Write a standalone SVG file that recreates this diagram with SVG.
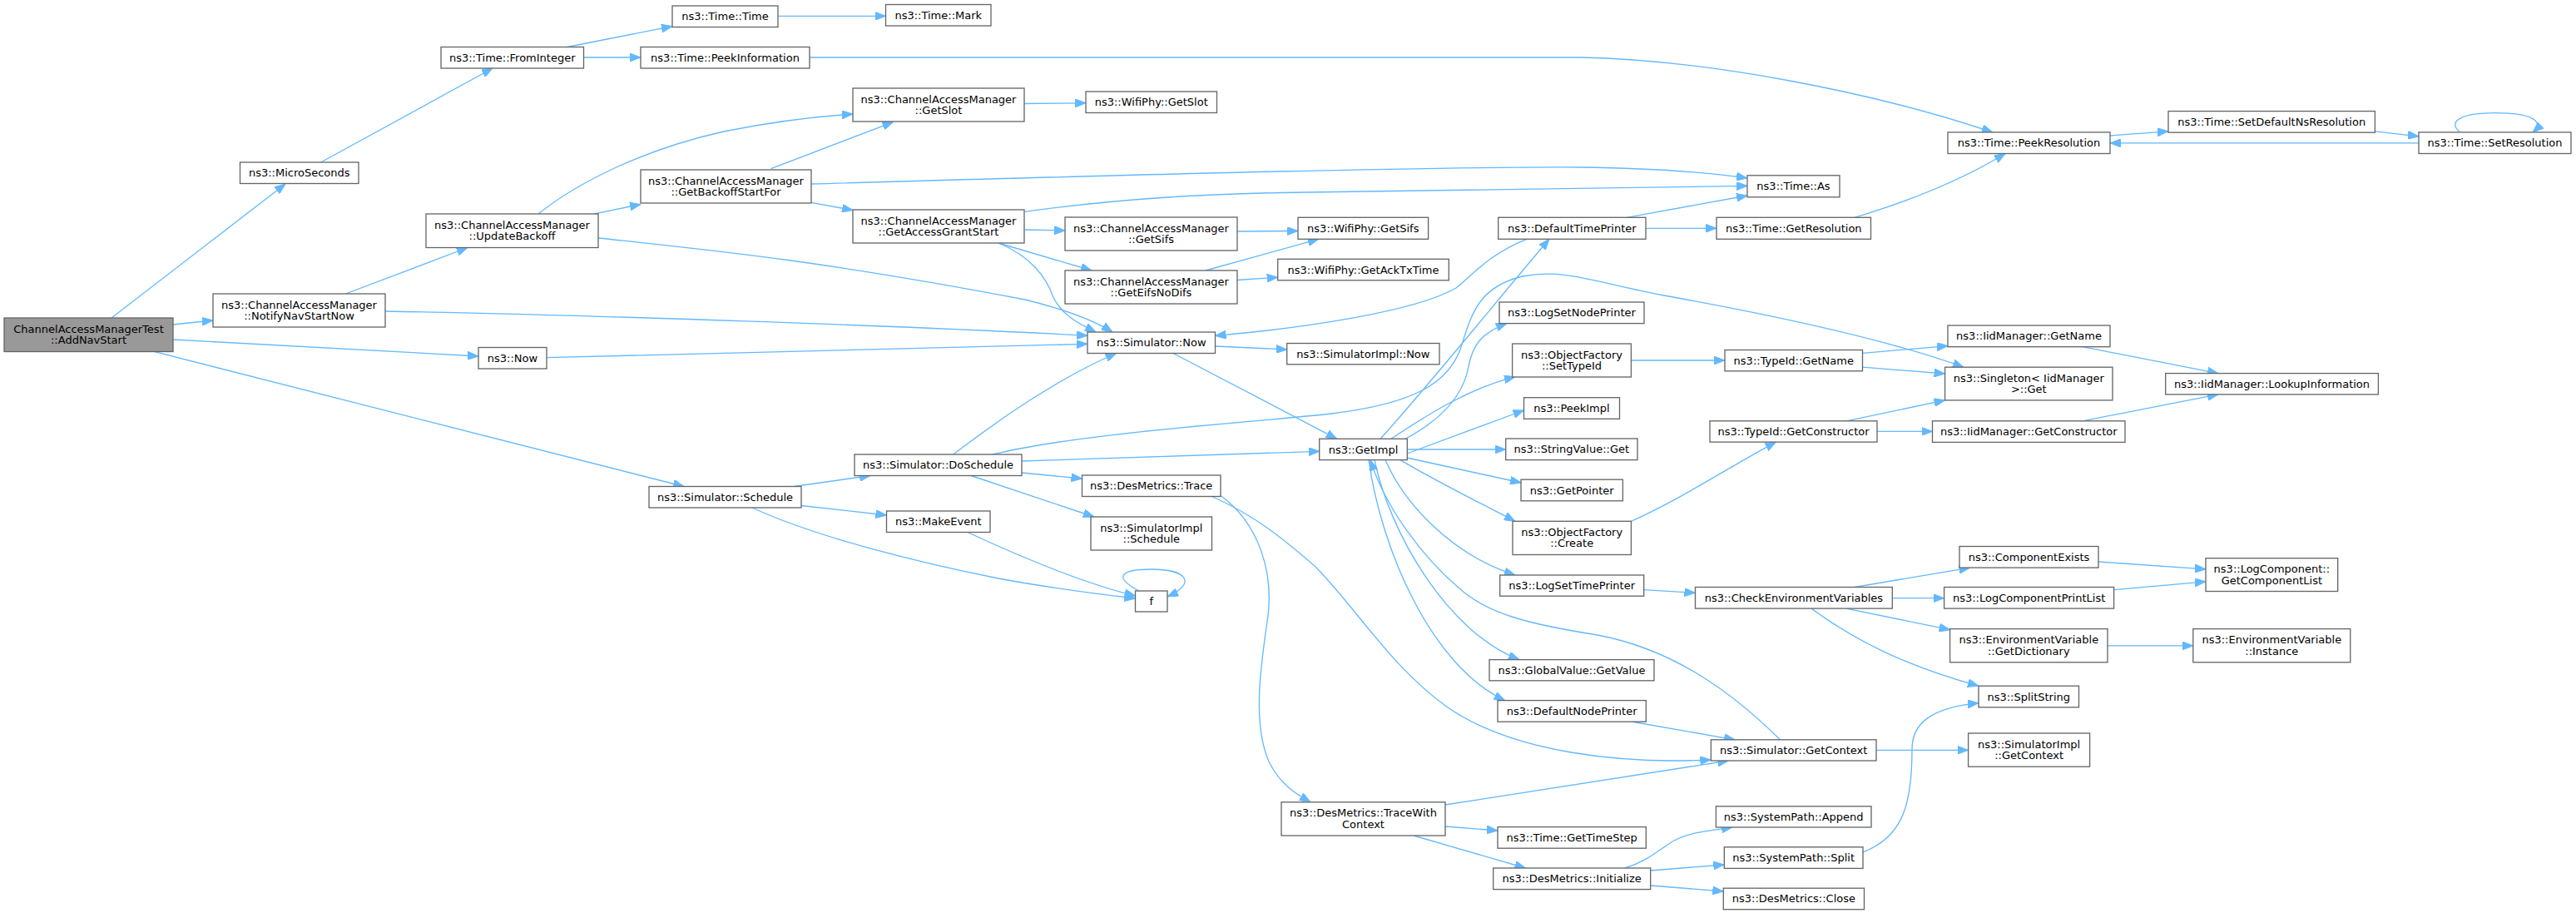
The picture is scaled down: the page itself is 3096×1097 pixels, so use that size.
<svg xmlns="http://www.w3.org/2000/svg" width="3096" height="1097" viewBox="0 0 3096 1097">
<style>
.n rect{fill:#ffffff;stroke:#666666;stroke-width:1.33}
.root rect{fill:#999999}
text{font-family:"DejaVu Sans","Liberation Sans",sans-serif;font-size:13px;text-anchor:middle;fill:#000000}
.e path{fill:none;stroke:#63b8ff;stroke-width:1.33;marker-end:url(#a)}
</style>
<defs>
<marker id="a" viewBox="0 0 13 10" refX="13" refY="5" markerWidth="13" markerHeight="10" markerUnits="userSpaceOnUse" orient="auto">
<path d="M0,0 L13,5 L0,10 z" fill="#63b8ff" stroke="#63b8ff" stroke-width="1"/>
</marker>
</defs>
<rect x="0" y="0" width="3096" height="1097" fill="#ffffff"/>
<g id="edges" class="e">
<path d="M134,382 L343,221"/>
<path d="M208,390 L256,385"/>
<path d="M208,408 L575,428"/>
<path d="M186,422.7 L822,584.5"/>
<path d="M385.6,195 L592,82"/>
<path d="M681.6,56.5 L808,31.6"/>
<path d="M701.5,69 L770,69"/>
<path d="M935,19.3 L1064.5,19.3"/>
<path d="M973,69 L1900,69 C2050,72 2250,110 2395,159"/>
<path d="M415.4,353 L562,297.5"/>
<path d="M463,374 C700,378 1100,392 1307,403.3"/>
<path d="M657,429.7 L1307,413.3"/>
<path d="M646.8,257 C700,215 780,178 870,158 C930,146 980,140 1025,137"/>
<path d="M714,257 L770,245.5"/>
<path d="M719,286 C850,300 980,312 1232,360 C1280,372 1315,385 1337,399"/>
<path d="M926.7,202.7 L1073.5,146.6"/>
<path d="M975,221 C1300,212 1700,200 1900,201 C1980,202 2050,207 2100,214"/>
<path d="M975,243.4 L1025,252.5"/>
<path d="M1231.7,254.3 C1350,238 1450,233 1540,231.5 L2100,223.4"/>
<path d="M1231.7,276 L1280,277"/>
<path d="M1200,292 L1312,325"/>
<path d="M1200,292 C1240,308 1258,335 1265,355 C1275,378 1295,388 1317,399"/>
<path d="M1231,124.5 L1305,123.8"/>
<path d="M1487,278 L1560,277.5"/>
<path d="M1449,325 L1584.8,287.3"/>
<path d="M1487,336.5 L1535.7,333.3"/>
<path d="M1460.5,416 L1546.7,420"/>
<path d="M1410,424.5 L1606.7,527.3"/>
<path d="M1228,554 L1585.7,542.3"/>
<path d="M1145.6,546 C1200,505 1270,455 1341.7,424.5"/>
<path d="M1193,546 C1300,520 1500,508 1600,497 C1700,485 1740,460 1755,420 C1768,380 1775,345 1830,332 C1880,322 1920,340 2000,355 C2150,382 2280,412 2360,441.2"/>
<path d="M1228,568 L1300.5,575"/>
<path d="M1167,571.5 L1315,621"/>
<path d="M954,584.5 L1046,571.5"/>
<path d="M963,607.5 L1065.5,619"/>
<path d="M904,610 C980,645 1100,675 1200,695 C1270,708 1330,715 1364.5,719"/>
<path d="M1163,639.5 C1250,680 1320,705 1364.5,716"/>
<path d="M1369,710 C1335,692 1350,684 1384,684 C1425,684 1440,700 1403,717"/>
<path d="M1456.6,596.5 C1510,620 1545,650 1580,680 C1630,730 1670,800 1740,850 C1820,905 1950,918 2056.4,913"/>
<path d="M1466.5,595 C1515,630 1530,690 1524,740 C1515,800 1505,870 1525,915 C1540,945 1560,955 1575,963.8"/>
<path d="M1737,967 L2077.3,914"/>
<path d="M1737,993 L1800,998"/>
<path d="M1699,1004 L1833.5,1043"/>
<path d="M1953,1043 C1980,1035 1995,1020 2012,1010 C2030,1000 2055,998 2082,994"/>
<path d="M1983.8,1046 L2072.3,1039"/>
<path d="M1983.8,1064 L2071.3,1071"/>
<path d="M2239,1023.8 C2290,1005 2298,960 2298,900 C2298,870 2320,850 2378,844.8"/>
<path d="M2255,901.3 L2365.6,901.3"/>
<path d="M2139.5,888.8 C2080,830 2010,780 1920,763 C1850,752 1790,740 1754,707 C1710,670 1665,610 1647,552.6"/>
<path d="M1960.4,867 L2085,888.8"/>
<path d="M1691,550 L1828,580"/>
<path d="M1683,552.6 C1720,575 1780,605 1821,626.3"/>
<path d="M1665,552.6 C1685,600 1740,665 1821,691"/>
<path d="M1652,552.6 C1670,640 1740,760 1826,792.6"/>
<path d="M1645,552.6 C1660,660 1720,800 1808.7,841.6"/>
<path d="M1691,545 L1831.5,493"/>
<path d="M1691,540 L1809.7,540"/>
<path d="M1672,527.3 C1720,495 1770,465 1821,452.8"/>
<path d="M1689,527.3 C1740,500 1760,470 1765,440 C1770,415 1780,400 1811,388.6"/>
<path d="M1659,527.3 C1720,460 1800,360 1862,287.3"/>
<path d="M1835,287.3 C1790,305 1770,330 1750,346 C1700,375 1560,395 1460.5,403.3"/>
<path d="M1955.4,261.3 L2100,235"/>
<path d="M1978,274.3 L2063,274.3"/>
<path d="M2229,261.3 C2300,240 2360,215 2410,184.5"/>
<path d="M2536,163 L2606,157.8"/>
<path d="M2854.4,157.8 L2907,163.8"/>
<path d="M2907,171.9 L2536,171.9"/>
<path d="M2956.6,158.9 C2940,145 2960,135.7 2999,135.7 C3040,135.7 3060,145 3044,158.9"/>
<path d="M1960.4,433 L2073,433"/>
<path d="M2238.5,424.4 L2341,415.6"/>
<path d="M2238.5,441.2 L2337.6,449"/>
<path d="M2219,505.8 L2337.6,480.9"/>
<path d="M2256,518.4 L2322.5,518.4"/>
<path d="M2503,416.7 L2666,448.6"/>
<path d="M2503,505.8 L2666,473.9"/>
<path d="M1960.4,626.3 C2020,600 2080,560 2134.5,531.1"/>
<path d="M1975.8,708.7 L2037.5,712.3"/>
<path d="M2229,705.5 L2367.6,682.1"/>
<path d="M2274.3,718.7 L2336.6,718.7"/>
<path d="M2219,731.1 L2343.6,756.7"/>
<path d="M2177,731.1 C2230,770 2290,800 2378,824.2"/>
<path d="M2522,675 L2651,683.9"/>
<path d="M2540.6,708.7 L2651,698.8"/>
<path d="M2533,775.9 L2635.8,775.9"/>
</g>
<g id="n_root" class="n root"><rect x="5" y="382" width="203" height="40.5"/><text x="106.5" y="399.5">ChannelAccessManagerTest</text><text x="106.5" y="413">::AddNavStart</text></g>
<g id="n_microseconds" class="n"><rect x="288.5" y="195" width="142.5" height="25.5"/><text x="359.75" y="212.25">ns3::MicroSeconds</text></g>
<g id="n_notifynavstartnow" class="n"><rect x="256" y="353" width="207" height="40"/><text x="359.5" y="370.5">ns3::ChannelAccessManager</text><text x="359.5" y="384">::NotifyNavStartNow</text></g>
<g id="n_now" class="n"><rect x="575" y="417.5" width="82" height="25.5"/><text x="616" y="434.75">ns3::Now</text></g>
<g id="n_schedule" class="n"><rect x="780" y="584.5" width="183" height="25.5"/><text x="871.5" y="601.75">ns3::Simulator::Schedule</text></g>
<g id="n_frominteger" class="n"><rect x="530" y="56.5" width="171.5" height="25.5"/><text x="615.75" y="73.75">ns3::Time::FromInteger</text></g>
<g id="n_updatebackoff" class="n"><rect x="512" y="257" width="207" height="40.5"/><text x="615.5" y="274.5">ns3::ChannelAccessManager</text><text x="615.5" y="288">::UpdateBackoff</text></g>
<g id="n_timetime" class="n"><rect x="808" y="7" width="127" height="25.5"/><text x="871.5" y="24.25">ns3::Time::Time</text></g>
<g id="n_timemark" class="n"><rect x="1064.5" y="5.5" width="126.5" height="25.5"/><text x="1127.75" y="22.75">ns3::Time::Mark</text></g>
<g id="n_peekinformation" class="n"><rect x="770" y="56.5" width="203" height="25.5"/><text x="871.5" y="73.75">ns3::Time::PeekInformation</text></g>
<g id="n_cam_getslot" class="n"><rect x="1025" y="106" width="206" height="40"/><text x="1128" y="123.5">ns3::ChannelAccessManager</text><text x="1128" y="137">::GetSlot</text></g>
<g id="n_wifiphy_getslot" class="n"><rect x="1305" y="110" width="157.5" height="25.5"/><text x="1383.75" y="127.25">ns3::WifiPhy::GetSlot</text></g>
<g id="n_getbackoffstartfor" class="n"><rect x="770" y="204" width="205" height="40"/><text x="872.5" y="221.5">ns3::ChannelAccessManager</text><text x="872.5" y="235">::GetBackoffStartFor</text></g>
<g id="n_getaccessgrantstart" class="n"><rect x="1025" y="252" width="206" height="40"/><text x="1128" y="269.5">ns3::ChannelAccessManager</text><text x="1128" y="283">::GetAccessGrantStart</text></g>
<g id="n_cam_getsifs" class="n"><rect x="1280" y="261" width="207" height="40"/><text x="1383.5" y="278.5">ns3::ChannelAccessManager</text><text x="1383.5" y="292">::GetSifs</text></g>
<g id="n_geteifsnodifs" class="n"><rect x="1280" y="325" width="207" height="40"/><text x="1383.5" y="342.5">ns3::ChannelAccessManager</text><text x="1383.5" y="356">::GetEifsNoDifs</text></g>
<g id="n_simulator_now" class="n"><rect x="1307" y="399" width="153.5" height="25.5"/><text x="1383.75" y="416.25">ns3::Simulator::Now</text></g>
<g id="n_doschedule" class="n"><rect x="1027" y="546" width="201" height="25.5"/><text x="1127.5" y="563.25">ns3::Simulator::DoSchedule</text></g>
<g id="n_makeevent" class="n"><rect x="1065.5" y="614" width="124.5" height="25.5"/><text x="1127.75" y="631.25">ns3::MakeEvent</text></g>
<g id="n_trace" class="n"><rect x="1300.5" y="571" width="166.5" height="25.5"/><text x="1383.75" y="588.25">ns3::DesMetrics::Trace</text></g>
<g id="n_simimpl_schedule" class="n"><rect x="1311" y="621" width="145.5" height="40"/><text x="1383.75" y="638.5">ns3::SimulatorImpl</text><text x="1383.75" y="652">::Schedule</text></g>
<g id="n_f" class="n"><rect x="1364.5" y="710" width="38.5" height="25"/><text x="1383.75" y="727">f</text></g>
<g id="n_wifiphy_getsifs" class="n"><rect x="1560" y="261.3" width="156.6" height="26"/><text x="1638.3" y="278.8">ns3::WifiPhy::GetSifs</text></g>
<g id="n_getacktxtime" class="n"><rect x="1535.7" y="311.3" width="205.6" height="25.5"/><text x="1638.5" y="328.5">ns3::WifiPhy::GetAckTxTime</text></g>
<g id="n_simimpl_now" class="n"><rect x="1546.7" y="412.5" width="183.3" height="25.3"/><text x="1638.35" y="429.65">ns3::SimulatorImpl::Now</text></g>
<g id="n_getimpl" class="n"><rect x="1585.7" y="527.3" width="105.6" height="25.3"/><text x="1638.5" y="544.5">ns3::GetImpl</text></g>
<g id="n_defaulttimeprinter" class="n"><rect x="1800.7" y="261.3" width="177.3" height="26"/><text x="1889.35" y="278.8">ns3::DefaultTimePrinter</text></g>
<g id="n_time_as" class="n"><rect x="2100" y="210.8" width="111" height="26"/><text x="2155.5" y="228.3">ns3::Time::As</text></g>
<g id="n_getresolution" class="n"><rect x="2063" y="261.3" width="185.5" height="26"/><text x="2155.75" y="278.8">ns3::Time::GetResolution</text></g>
<g id="n_logsetnodeprinter" class="n"><rect x="1802" y="363" width="174" height="25.6"/><text x="1889" y="380.3">ns3::LogSetNodePrinter</text></g>
<g id="n_settypeid" class="n"><rect x="1817.6" y="413" width="142.8" height="40"/><text x="1889" y="430.5">ns3::ObjectFactory</text><text x="1889" y="444">::SetTypeId</text></g>
<g id="n_typeid_getname" class="n"><rect x="2073" y="420.5" width="165.5" height="25.3"/><text x="2155.75" y="437.65">ns3::TypeId::GetName</text></g>
<g id="n_peekimpl" class="n"><rect x="1831.5" y="477.7" width="115" height="25.6"/><text x="1889" y="495">ns3::PeekImpl</text></g>
<g id="n_typeid_getconstructor" class="n"><rect x="2055" y="505.8" width="201" height="25.3"/><text x="2155.5" y="522.95">ns3::TypeId::GetConstructor</text></g>
<g id="n_stringvalue_get" class="n"><rect x="1809.7" y="527" width="158.3" height="25.6"/><text x="1888.85" y="544.3">ns3::StringValue::Get</text></g>
<g id="n_getpointer" class="n"><rect x="1828" y="576.2" width="122.4" height="25.6"/><text x="1889.2" y="593.5">ns3::GetPointer</text></g>
<g id="n_create" class="n"><rect x="1818" y="626.3" width="142.4" height="40.2"/><text x="1889.2" y="643.8">ns3::ObjectFactory</text><text x="1889.2" y="657.3">::Create</text></g>
<g id="n_logsettimeprinter" class="n"><rect x="1802.7" y="691" width="173" height="25.2"/><text x="1889.2" y="708.1">ns3::LogSetTimePrinter</text></g>
<g id="n_checkenv" class="n"><rect x="2037.5" y="705.5" width="236.8" height="25.6"/><text x="2155.9" y="722.8">ns3::CheckEnvironmentVariables</text></g>
<g id="n_globalvalue" class="n"><rect x="1790" y="792.6" width="198" height="25.2"/><text x="1889" y="809.7">ns3::GlobalValue::GetValue</text></g>
<g id="n_defaultnodeprinter" class="n"><rect x="1800" y="841.6" width="178.3" height="25.6"/><text x="1889.15" y="858.9">ns3::DefaultNodePrinter</text></g>
<g id="n_getcontext" class="n"><rect x="2056.4" y="888.8" width="198.6" height="25.2"/><text x="2155.7" y="905.9">ns3::Simulator::GetContext</text></g>
<g id="n_tracewithcontext" class="n"><rect x="1540" y="963.8" width="197" height="40.2"/><text x="1638.5" y="981.3">ns3::DesMetrics::TraceWith</text><text x="1638.5" y="994.8">Context</text></g>
<g id="n_gettimestep" class="n"><rect x="1800" y="993.6" width="178.3" height="25.6"/><text x="1889.15" y="1010.9">ns3::Time::GetTimeStep</text></g>
<g id="n_initialize" class="n"><rect x="1794.7" y="1043" width="189" height="25.6"/><text x="1889.2" y="1060.3">ns3::DesMetrics::Initialize</text></g>
<g id="n_append" class="n"><rect x="2062.4" y="968.8" width="186.6" height="25.2"/><text x="2155.7" y="985.9">ns3::SystemPath::Append</text></g>
<g id="n_split" class="n"><rect x="2072.3" y="1017.8" width="166.7" height="25.6"/><text x="2155.65" y="1035.1">ns3::SystemPath::Split</text></g>
<g id="n_close" class="n"><rect x="2071.3" y="1067.2" width="169.2" height="25.5"/><text x="2155.9" y="1084.45">ns3::DesMetrics::Close</text></g>
<g id="n_peekresolution" class="n"><rect x="2341" y="158.9" width="195" height="25.6"/><text x="2438.5" y="176.2">ns3::Time::PeekResolution</text></g>
<g id="n_setdefaultnsresolution" class="n"><rect x="2606" y="133.6" width="248.4" height="25.6"/><text x="2730.2" y="150.9">ns3::Time::SetDefaultNsResolution</text></g>
<g id="n_setresolution" class="n"><rect x="2907" y="158.9" width="183" height="25.6"/><text x="2998.5" y="176.2">ns3::Time::SetResolution</text></g>
<g id="n_iid_getname" class="n"><rect x="2341" y="391" width="195" height="25.7"/><text x="2438.5" y="408.35">ns3::IidManager::GetName</text></g>
<g id="n_singleton" class="n"><rect x="2337.6" y="441.2" width="201.4" height="39.7"/><text x="2438.3" y="458.7">ns3::Singleton&lt; IidManager</text><text x="2438.3" y="472.2">&gt;::Get</text></g>
<g id="n_lookup" class="n"><rect x="2602.7" y="448.6" width="255.7" height="25.3"/><text x="2730.55" y="465.75">ns3::IidManager::LookupInformation</text></g>
<g id="n_iid_getconstructor" class="n"><rect x="2322.5" y="505.8" width="231.5" height="25.6"/><text x="2438.25" y="523.1">ns3::IidManager::GetConstructor</text></g>
<g id="n_componentexists" class="n"><rect x="2355" y="656.5" width="167" height="25.6"/><text x="2438.5" y="673.8">ns3::ComponentExists</text></g>
<g id="n_logcomponentprintlist" class="n"><rect x="2336.6" y="705.5" width="204" height="25.6"/><text x="2438.6" y="722.8">ns3::LogComponentPrintList</text></g>
<g id="n_getcomponentlist" class="n"><rect x="2651" y="670.7" width="158.7" height="39.8"/><text x="2730.35" y="688.2">ns3::LogComponent::</text><text x="2730.35" y="701.7">GetComponentList</text></g>
<g id="n_getdictionary" class="n"><rect x="2343.6" y="755.6" width="189.4" height="40.2"/><text x="2438.3" y="773.1">ns3::EnvironmentVariable</text><text x="2438.3" y="786.6">::GetDictionary</text></g>
<g id="n_instance" class="n"><rect x="2635.8" y="755.6" width="189" height="40.2"/><text x="2730.3" y="773.1">ns3::EnvironmentVariable</text><text x="2730.3" y="786.6">::Instance</text></g>
<g id="n_splitstring" class="n"><rect x="2378" y="824.2" width="120.5" height="25.6"/><text x="2438.25" y="841.5">ns3::SplitString</text></g>
<g id="n_simimpl_getcontext" class="n"><rect x="2365.6" y="881" width="146" height="40.2"/><text x="2438.6" y="898.5">ns3::SimulatorImpl</text><text x="2438.6" y="912">::GetContext</text></g>
</svg>
